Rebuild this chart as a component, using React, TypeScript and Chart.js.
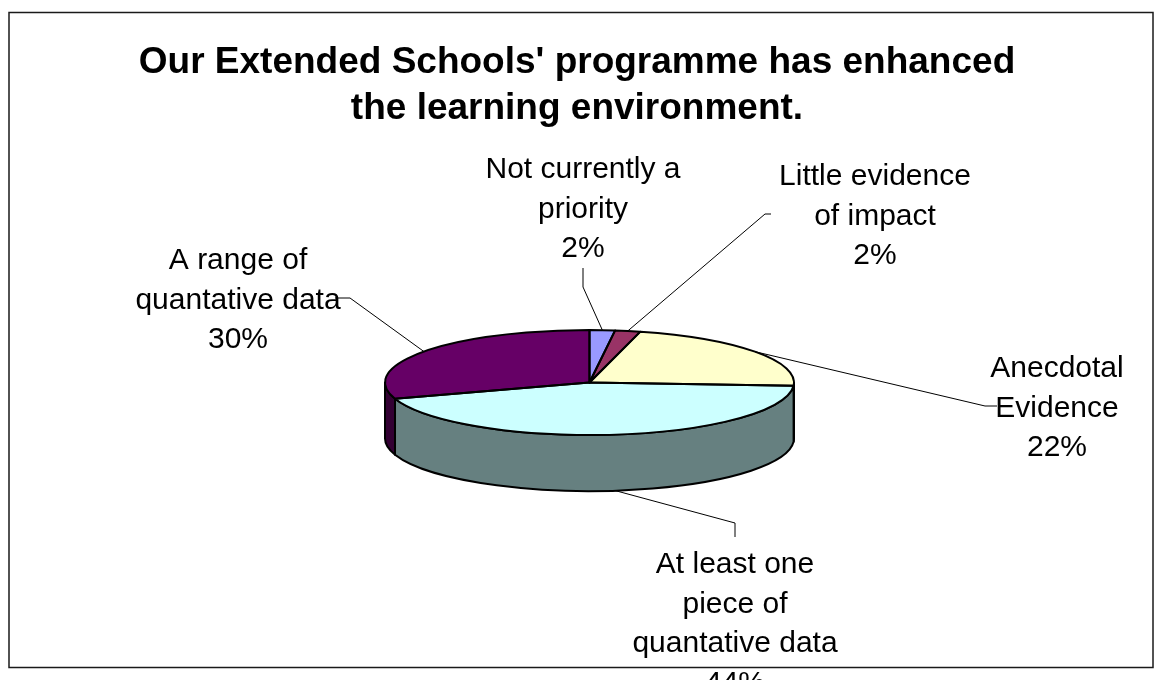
import React, { useEffect, useRef } from 'react';
import { Chart, registerables } from 'chart.js';

Chart.register(...registerables);

// ---- data ----
const TITLE_LINES = ["Our Extended Schools' programme has enhanced", 'the learning environment.'];
const CATEGORY_LINES = [
  ['Not currently a', 'priority'],
  ['Little evidence', 'of impact'],
  ['Anecdotal', 'Evidence'],
  ['At least one', 'piece of', 'quantative data'],
  ['A range of', 'quantative data'],
];
const VALUES = [2, 2, 22, 44, 30];
const COLORS = ['#9999FF', '#993366', '#FFFFCC', '#CCFFFF', '#660066'];
const SIDE_COLORS = ['#4D4D80', '#4D1A33', '#808066', '#668080', '#330033'];

// ---- layout (positions only) ----
const CX = 589.5;
const CY = 382.5;
const RX = 204.5;
const RY = 52.5;
const DEPTH = 56;
const FONT = '"Liberation Sans", Arial, sans-serif';
const TITLE_X = 577;
const LABEL_FONT_SIZE = 30;
const LABEL_LINE = 39.5;
const LABEL_LAYOUT = [
  { x: 583, y: 178, leader: [[583, 268], [583, 287]] },
  { x: 875, y: 185, leader: [[771, 214], [765, 214]] },
  { x: 1057, y: 377, leader: [[997, 406], [985, 406]] },
  { x: 735, y: 573, leader: [[735, 537], [735, 523]] },
  { x: 238, y: 269, leader: [[335, 298], [350, 298]] },
];

function wallPath(ctx: CanvasRenderingContext2D, a1: number, a2: number) {
  ctx.beginPath();
  ctx.ellipse(CX, CY, RX, RY, 0, a1, a2, false);
  ctx.lineTo(CX + RX * Math.cos(a2), CY + DEPTH + RY * Math.sin(a2));
  ctx.ellipse(CX, CY + DEPTH, RX, RY, 0, a2, a1, true);
  ctx.closePath();
}

const pie3d = {
  id: 'pie3d',
  beforeDraw(chart: any) {
    const ctx: CanvasRenderingContext2D = chart.ctx;
    ctx.save();
    ctx.fillStyle = '#ffffff';
    ctx.fillRect(0, 0, chart.width, chart.height);
    ctx.strokeStyle = '#1a1a1a';
    ctx.lineWidth = 1.5;
    ctx.strokeRect(9, 12.5, 1144, 655);
    // title
    ctx.fillStyle = '#000';
    ctx.textAlign = 'center';
    ctx.textBaseline = 'alphabetic';
    ctx.font = `bold 37px ${FONT}`;
    ctx.fillText(TITLE_LINES[0], TITLE_X, 73);
    ctx.fillText(TITLE_LINES[1], TITLE_X, 119);
    ctx.restore();
  },
  beforeDatasetsDraw(chart: any) {
    const ctx: CanvasRenderingContext2D = chart.ctx;
    const meta = chart.getDatasetMeta(0);
    const arcs = meta.data;
    // side walls (front half: angles 0..PI)
    ctx.save();
    ctx.lineWidth = 2;
    ctx.lineJoin = 'round';
    ctx.strokeStyle = '#000';
    arcs.forEach((arc: any, i: number) => {
      const { startAngle, endAngle } = arc.getProps(['startAngle', 'endAngle'], true);
      const a1 = Math.max(startAngle, 0);
      const a2 = Math.min(endAngle, Math.PI);
      if (a2 > a1) {
        wallPath(ctx, a1, a2);
        ctx.fillStyle = SIDE_COLORS[i];
        ctx.fill();
        ctx.stroke();
      }
    });
    ctx.restore();
    // squash the library's pie onto the ellipse
    const a0 = arcs[0];
    const { x, y, outerRadius } = a0.getProps(['x', 'y', 'outerRadius'], true);
    ctx.save();
    ctx.translate(CX, CY);
    ctx.scale(RX / outerRadius, RY / outerRadius);
    ctx.translate(-x, -y);
  },
  afterDatasetsDraw(chart: any) {
    const ctx: CanvasRenderingContext2D = chart.ctx;
    ctx.restore();
    const meta = chart.getDatasetMeta(0);
    const arcs = meta.data;
    const total = VALUES.reduce((a, b) => a + b, 0);
    ctx.save();
    ctx.lineWidth = 2;
    ctx.lineJoin = 'round';
    ctx.strokeStyle = '#000';
    arcs.forEach((arc: any) => {
      const { startAngle, endAngle } = arc.getProps(['startAngle', 'endAngle'], true);
      ctx.beginPath();
      ctx.moveTo(CX, CY);
      ctx.ellipse(CX, CY, RX, RY, 0, startAngle, endAngle, false);
      ctx.closePath();
      ctx.stroke();
    });
    // leader lines and labels
    arcs.forEach((arc: any, i: number) => {
      const { startAngle, endAngle } = arc.getProps(['startAngle', 'endAngle'], true);
      const m = (startAngle + endAngle) / 2;
      const ax = CX + RX * Math.cos(m);
      const ay = CY + RY * Math.sin(m) + (Math.sin(m) > 0 ? DEPTH : 0);
      const lay = LABEL_LAYOUT[i];
      ctx.lineWidth = 1;
      ctx.strokeStyle = '#000';
      ctx.beginPath();
      ctx.moveTo(lay.leader[0][0], lay.leader[0][1]);
      for (let k = 1; k < lay.leader.length; k++) ctx.lineTo(lay.leader[k][0], lay.leader[k][1]);
      ctx.lineTo(ax, ay);
      ctx.stroke();
      const lines = [...CATEGORY_LINES[i], Math.round((VALUES[i] / total) * 100) + '%'];
      ctx.fillStyle = '#000';
      ctx.textAlign = 'center';
      ctx.textBaseline = 'alphabetic';
      ctx.font = `${LABEL_FONT_SIZE}px ${FONT}`;
      lines.forEach((t, k) => ctx.fillText(t, lay.x, lay.y + k * LABEL_LINE));
    });
    ctx.restore();
  },
};

export default function App() {
  const ref = useRef<HTMLCanvasElement>(null);
  useEffect(() => {
    const chart = new Chart(ref.current as HTMLCanvasElement, {
      type: 'pie',
      data: {
        labels: CATEGORY_LINES.map((l) => l.join(' ')),
        datasets: [
          {
            data: VALUES,
            backgroundColor: COLORS,
            borderWidth: 0,
            clip: false as any,
          } as any,
        ],
      },
      options: {
        responsive: false,
        animation: false,
        devicePixelRatio: 1,
        events: [],
        layout: { padding: { top: 150, bottom: 120, left: 300, right: 300 } },
        plugins: {
          legend: { display: false },
          tooltip: { enabled: false },
          title: { display: false },
        },
      },
      plugins: [pie3d as any],
    });
    return () => chart.destroy();
  }, []);
  return (
    <div style={{ position: 'absolute', left: 0, top: 0, width: 1162, height: 680, background: '#fff', overflow: 'hidden' }}>
      <canvas ref={ref} width={1162} height={680} style={{ display: 'block' }} />
    </div>
  );
}
